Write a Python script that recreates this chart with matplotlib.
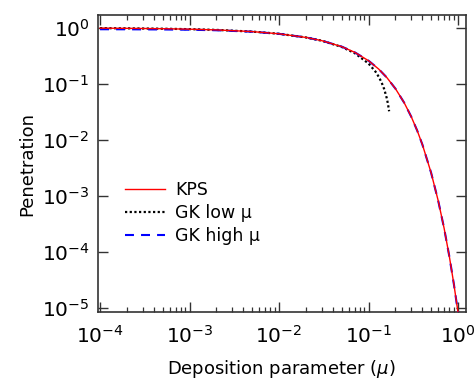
import matplotlib
matplotlib.use('Agg')
import matplotlib.pyplot as plt
from matplotlib.ticker import LogLocator, NullLocator, LogFormatterMathtext

# deposition parameter values and penetrations
mu = [1e-4, 2e-4, 5e-4, 1e-3, 2e-3, 5e-3, 1e-2, 2e-2, 3e-2, 5e-2, 7e-2,
      0.1, 0.13, 0.16, 0.2, 0.25, 0.3, 0.35, 0.4, 0.5, 0.6, 0.7, 0.8, 0.9, 1.0]
kps = [0.9886, 0.9820, 0.9673, 0.9489, 0.9206, 0.8590, 0.7846, 0.6754, 0.5922,
       0.4640, 0.3672, 0.2597, 0.1840, 0.1303, 0.0823, 0.0464, 0.0261, 0.0147,
       0.00827, 0.00262, 8.31e-4, 2.64e-4, 8.35e-5, 2.65e-5, 8.4e-6]
gk_high = [0.9458, 0.9436, 0.9372, 0.9268, 0.9071, 0.8546, 0.7836, 0.6757, 0.5922,
           0.4640, 0.3672, 0.2597, 0.1840, 0.1303, 0.0823, 0.0464, 0.0261, 0.0147,
           0.00827, 0.00262, 8.31e-4, 2.64e-4, 8.35e-5, 2.65e-5, 8.4e-6]

mu_low = [1e-4, 2e-4, 5e-4, 1e-3, 2e-3, 5e-3, 1e-2, 2e-2, 3e-2, 5e-2, 7e-2,
          0.1, 0.12, 0.13, 0.14, 0.15, 0.16, 0.165, 0.17]
gk_low = [0.9886, 0.9820, 0.9673, 0.9489, 0.9206, 0.8590, 0.7846, 0.6752, 0.5905,
          0.4583, 0.3547, 0.2317, 0.1647, 0.1345, 0.1064, 0.0801, 0.0556, 0.0439, 0.0325]

plt.rcParams['font.family'] = 'DejaVu Sans'

fig = plt.figure(figsize=(4.74, 3.79), dpi=100)
ax = fig.add_axes([97.7 / 474, 1 - 312 / 379, (465.7 - 97.7) / 474, (312 - 15) / 379])

l_low, = ax.plot(mu_low, gk_low, color='black', lw=1.6, dashes=(1, 1.1), zorder=2)
l_high, = ax.plot(mu, gk_high, color='#0000ff', lw=1.5, dashes=(4.3, 3.4), zorder=3)
l_kps, = ax.plot(mu, kps, color='#ff0000', lw=1.0, zorder=4)

ax.set_xscale('log')
ax.set_yscale('log')
ax.set_xlim(10 ** -4.026, 10 ** 0.086)
ax.set_ylim(10 ** -5.07, 10 ** 0.23)

ax.xaxis.set_major_locator(LogLocator(base=10, numticks=10))
ax.xaxis.set_minor_locator(LogLocator(base=10, subs=range(2, 10), numticks=20))
ax.yaxis.set_major_locator(LogLocator(base=10, numticks=10))
ax.yaxis.set_minor_locator(NullLocator())
ax.xaxis.set_major_formatter(LogFormatterMathtext())
ax.yaxis.set_major_formatter(LogFormatterMathtext())

ax.tick_params(which='both', direction='in', top=True, right=True, color='#333333')
ax.tick_params(which='major', length=7, width=1.0, labelsize=14.5)
ax.tick_params(which='minor', length=3.6, width=0.9)
ax.tick_params(axis='y', which='major', pad=6)
ax.tick_params(axis='x', which='major', pad=9)
for s in ax.spines.values():
    s.set_linewidth(1.2)
    s.set_color('#333333')

ax.set_xlabel('Deposition parameter ($\\mu$)', fontsize=13, labelpad=8)
ax.set_ylabel('Penetration', fontsize=13, labelpad=4)

ax.legend([l_kps, l_low, l_high], ['KPS', 'GK low μ', 'GK high μ'],
          loc='center left', bbox_to_anchor=(0.074, 0.333), frameon=False,
          fontsize=12.5, borderpad=0, borderaxespad=0, handlelength=2.3,
          handletextpad=0.6, labelspacing=0.3)

fig.savefig('out.png', dpi=100)
